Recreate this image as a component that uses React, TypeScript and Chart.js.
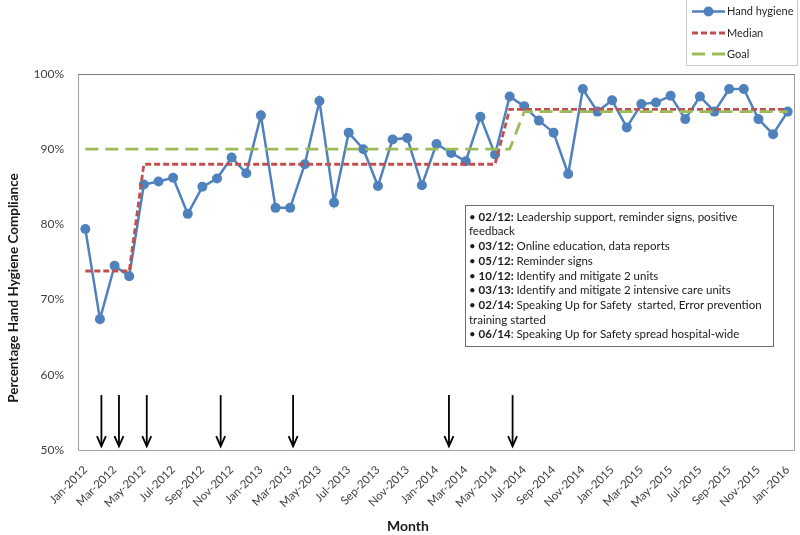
import React, { useEffect, useRef } from "react";
import { Chart, registerables } from "chart.js";

Chart.register(...registerables);

const months = [
  "Jan-2012", "Feb-2012", "Mar-2012", "Apr-2012", "May-2012", "Jun-2012", "Jul-2012", "Aug-2012", "Sep-2012", "Oct-2012", "Nov-2012", "Dec-2012",
  "Jan-2013", "Feb-2013", "Mar-2013", "Apr-2013", "May-2013", "Jun-2013", "Jul-2013", "Aug-2013", "Sep-2013", "Oct-2013", "Nov-2013", "Dec-2013",
  "Jan-2014", "Feb-2014", "Mar-2014", "Apr-2014", "May-2014", "Jun-2014", "Jul-2014", "Aug-2014", "Sep-2014", "Oct-2014", "Nov-2014", "Dec-2014",
  "Jan-2015", "Feb-2015", "Mar-2015", "Apr-2015", "May-2015", "Jun-2015", "Jul-2015", "Aug-2015", "Sep-2015", "Oct-2015", "Nov-2015", "Dec-2015",
  "Jan-2016",
];

const handHygiene = [
  79.4, 67.4, 74.5, 73.1, 85.3, 85.7, 86.2, 81.4, 85.0, 86.1, 88.9, 86.8,
  94.5, 82.2, 82.2, 88.0, 96.4, 82.9, 92.2, 90.0, 85.1, 91.3, 91.5, 85.2,
  90.7, 89.5, 88.4, 94.3, 89.3, 97.0, 95.7, 93.8, 92.2, 86.7, 98.0, 95.0,
  96.5, 92.9, 96.0, 96.2, 97.1, 94.0, 97.0, 95.0, 98.0, 98.0, 94.0, 92.0,
  95.0,
];

const median = [
  73.8, 73.8, 73.8, 73.8, 88.0, 88.0, 88.0, 88.0, 88.0, 88.0, 88.0, 88.0,
  88.0, 88.0, 88.0, 88.0, 88.0, 88.0, 88.0, 88.0, 88.0, 88.0, 88.0, 88.0,
  88.0, 88.0, 88.0, 88.0, 88.0, 95.3, 95.3, 95.3, 95.3, 95.3, 95.3, 95.3,
  95.3, 95.3, 95.3, 95.3, 95.3, 95.3, 95.3, 95.3, 95.3, 95.3, 95.3, 95.3,
  95.3,
];

const goal = [
  90, 90, 90, 90, 90, 90, 90, 90, 90, 90, 90, 90,
  90, 90, 90, 90, 90, 90, 90, 90, 90, 90, 90, 90,
  90, 90, 90, 90, 90, 90, 95, 95, 95, 95, 95, 95,
  95, 95, 95, 95, 95, 95, 95, 95, 95, 95, 95, 95,
  95,
];

// Intervention arrows: position along the month axis (category index)
const arrowAt = [1.1, 2.3, 4.2, 9.25, 14.2, 24.85, 29.2];
const arrowTop = 57.3;
const arrowBottom = 50.5;

const yTicks = [50, 60, 70, 80, 90, 100];

const seriesNames = ["Hand hygiene", "Median", "Goal"];

const noteLines: [string, string][] = [
  ["02/12:", " Leadership support, reminder signs, positive"],
  ["", "feedback"],
  ["03/12:", " Online education, data reports"],
  ["05/12:", " Reminder signs"],
  ["10/12:", " Identify and mitigate 2 units"],
  ["03/13:", " Identify and mitigate 2 intensive care units"],
  ["02/14:", " Speaking Up for Safety  started, Error prevention"],
  ["", "training started"],
  ["06/14", ": Speaking Up for Safety spread hospital-wide"],
];

const BLUE = "#4F81BD";
const RED = "#C0504D";
const GREEN = "#9BBB59";
const FONT = "Lato, 'Open Sans', sans-serif";

const overlay = {
  id: "overlay",
  afterDraw(chart: any) {
    const ctx = chart.ctx;
    const area = chart.chartArea;
    const xs = chart.scales.x;
    const ys = chart.scales.y;
    ctx.save();

    // plot border
    ctx.lineWidth = 1;
    ctx.strokeStyle = "#a0a0a0";
    ctx.beginPath();
    ctx.moveTo(area.left + 0.5, area.top);
    ctx.lineTo(area.left + 0.5, area.bottom + 0.5);
    ctx.lineTo(area.right - 0.5, area.bottom + 0.5);
    ctx.lineTo(area.right - 0.5, area.top);
    ctx.stroke();
    ctx.strokeStyle = "#7a7a7a";
    ctx.beginPath();
    ctx.moveTo(area.left, area.top + 0.5);
    ctx.lineTo(area.right, area.top + 0.5);
    ctx.stroke();

    // arrows
    ctx.strokeStyle = "#000";
    ctx.lineWidth = 1.8;
    const yT = ys.getPixelForValue(arrowTop);
    const yB = ys.getPixelForValue(arrowBottom);
    for (const a of arrowAt) {
      const x = xs.getPixelForValue(a);
      ctx.beginPath();
      ctx.moveTo(x, yT);
      ctx.lineTo(x, yB);
      ctx.stroke();
      ctx.beginPath();
      ctx.moveTo(x - 4.5, yB - 10);
      ctx.lineTo(x, yB);
      ctx.lineTo(x + 4.5, yB - 10);
      ctx.stroke();
    }

    // annotation box
    const bx = 465.5, by = 205.5, bw = 308, bh = 141;
    ctx.fillStyle = "#fff";
    ctx.fillRect(bx, by, bw, bh);
    ctx.strokeStyle = "#6f6f6f";
    ctx.lineWidth = 1;
    ctx.strokeRect(bx, by, bw, bh);
    ctx.fillStyle = "#1a1a1a";
    ctx.textBaseline = "middle";
    ctx.textAlign = "left";
    noteLines.forEach((ln, i) => {
      const ty = 217 + i * 14.7;
      let tx = 469;
      if (ln[0]) {
        ctx.font = `11.5px ${FONT}`;
        ctx.fillText("• ", tx, ty);
        tx += ctx.measureText("• ").width;
        ctx.font = `bold 11.5px ${FONT}`;
        ctx.fillText(ln[0], tx, ty);
        tx += ctx.measureText(ln[0]).width;
      }
      ctx.font = `11.5px ${FONT}`;
      ctx.fillText(ln[1], tx, ty);
    });

    // legend
    ctx.strokeStyle = "#c8c8c8";
    ctx.lineWidth = 1;
    ctx.fillStyle = "#fff";
    ctx.fillRect(686.5, -1, 111, 66.5);
    ctx.strokeRect(686.5, -1, 111, 66.5);
    const legY = [11.5, 33, 54];
    const colors = [BLUE, RED, GREEN];
    const dashes = [[], [6, 3], [13, 7]];
    seriesNames.forEach((name, i) => {
      ctx.strokeStyle = colors[i];
      ctx.lineWidth = i === 0 ? 2.5 : 2.8;
      ctx.setLineDash(dashes[i]);
      ctx.beginPath();
      ctx.moveTo(692, legY[i]);
      ctx.lineTo(725, legY[i]);
      ctx.stroke();
      ctx.setLineDash([]);
      if (i === 0) {
        ctx.fillStyle = BLUE;
        ctx.beginPath();
        ctx.arc(708.5, legY[i], 5, 0, Math.PI * 2);
        ctx.fill();
      }
      ctx.fillStyle = "#262626";
      ctx.font = `11px ${FONT}`;
      ctx.textBaseline = "middle";
      ctx.fillText(name, 727, legY[i]);
    });

    // axis titles
    ctx.fillStyle = "#1a1a1a";
    ctx.font = `bold 14px ${FONT}`;
    ctx.textAlign = "center";
    ctx.textBaseline = "middle";
    ctx.fillText("Month", 408, 526);
    ctx.font = `bold 13.5px ${FONT}`;
    ctx.save();
    ctx.translate(14, 288);
    ctx.rotate(-Math.PI / 2);
    ctx.fillText("Percentage Hand Hygiene Compliance", 0, 0);
    ctx.restore();

    ctx.restore();
  },
};

export default function App() {
  const ref = useRef<HTMLCanvasElement | null>(null);
  useEffect(() => {
    if (!ref.current) return;
    const chart = new Chart(ref.current, {
      type: "line",
      data: {
        labels: months,
        datasets: [
          {
            label: seriesNames[0],
            data: handHygiene,
            borderColor: BLUE,
            backgroundColor: BLUE,
            borderWidth: 2.5,
            pointRadius: 5,
            pointBorderWidth: 0,
            pointBackgroundColor: BLUE,
            tension: 0,
            order: 3,
          },
          {
            label: seriesNames[1],
            data: median,
            borderColor: RED,
            borderWidth: 2.8,
            borderDash: [6, 3],
            pointRadius: 0,
            tension: 0,
            order: 2,
          },
          {
            label: seriesNames[2],
            data: goal,
            borderColor: GREEN,
            borderWidth: 2.8,
            borderDash: [13, 7],
            pointRadius: 0,
            tension: 0,
            order: 1,
          },
        ],
      },
      options: {
        responsive: false,
        animation: false,
        events: [],
        layout: { padding: { left: 0, right: 3, top: 74, bottom: 0 } },
        plugins: {
          legend: { display: false },
          tooltip: { enabled: false },
          title: { display: false },
        },
        scales: {
          x: {
            offset: true,
            grid: { display: false, drawTicks: false },
            border: { display: false },
            afterFit: (s: any) => {
              s.height = 85;
              s.paddingLeft = 0;
              s.paddingRight = 0;
            },
            ticks: {
              autoSkip: false,
              maxRotation: 45,
              minRotation: 45,
              padding: 13,
              color: "#404040",
              font: { family: FONT, size: 11.5 },
              callback: (_v: any, i: number) => (i % 2 === 0 ? months[i] : ""),
            },
          },
          y: {
            min: 50,
            max: 100,
            afterBuildTicks: (s: any) => {
              s.ticks = yTicks.map((v) => ({ value: v }));
            },
            afterFit: (s: any) => {
              s.width = 78;
              s.paddingTop = 0;
              s.paddingBottom = 0;
            },
            grid: { display: false, drawTicks: false },
            border: { display: false },
            ticks: {
              padding: 14,
              color: "#404040",
              font: { family: FONT, size: 12 },
              callback: (v: any) => `${v}%`,
            },
          },
        },
      },
      plugins: [overlay],
    });
    return () => chart.destroy();
  }, []);
  return (
    <div style={{ position: "absolute", left: 0, top: 0, width: 800, height: 535, background: "#fff" }}>
      <canvas ref={ref} width={800} height={535} />
    </div>
  );
}
